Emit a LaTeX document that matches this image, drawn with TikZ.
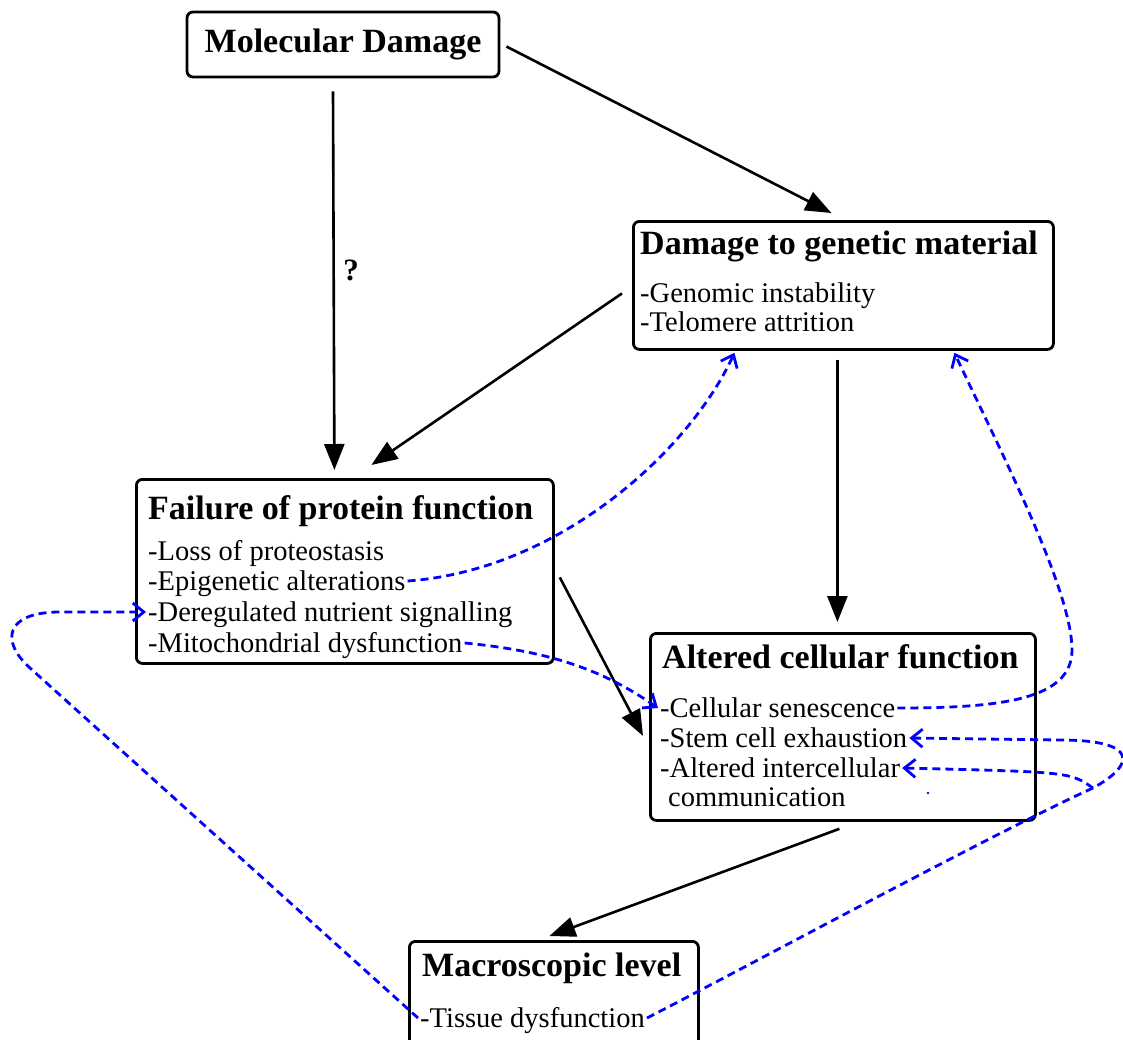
\documentclass[tikz,border=0pt]{standalone}
\usepackage{fontspec}
\setmainfont{Liberation Serif}
\usetikzlibrary{arrows.meta,calc}
\begin{document}
\begin{tikzpicture}[x=1pt,y=-1pt,
  box/.style={draw=black, line width=2.8pt, rounded corners=6pt, inner sep=0pt},
  ttl/.style={font=\fontsize{34}{36}\selectfont\bfseries, inner sep=0pt, anchor=west, text height=22.5pt, text depth=0pt},
  itm/.style={font=\fontsize{28.5}{30}\selectfont, inner xsep=2pt, inner ysep=0pt, anchor=west, text height=19pt, text depth=0pt},
  blk/.style={line width=2.6pt, -{Triangle[length=26pt,width=20pt]}},
  blu/.style={blue, line width=2.8pt, dash pattern=on 8pt off 5pt, -{Straight Barb[length=11pt,width=18pt]}}
]
\useasboundingbox (0,0) rectangle (1123,1039);

% boxes
\node[box, minimum width=312pt, minimum height=65pt, font=\fontsize{34}{36}\selectfont\bfseries] (md) at (343,44.5) {Molecular Damage};
\node[box, minimum width=420pt, minimum height=128pt, anchor=north west] (dgm) at (632,220) {};
\node[box, minimum width=417pt, minimum height=184pt, anchor=north west] (fpf) at (135,478) {};
\node[box, minimum width=385pt, minimum height=187pt, anchor=north west] (acf) at (649,632) {};
\node[box, minimum width=289pt, minimum height=130pt, anchor=north west] (mac) at (408,940) {};

% titles
\node[ttl] (dgmt) at (640,243) {Damage to genetic material};
\node[ttl] (fpft) at (148,508) {Failure of protein function};
\node[ttl] (acft) at (662,657) {Altered cellular function};
\node[ttl] (mact) at (422,965) {Macroscopic level};

% items
\node[itm] (gen) at (638,293) {-Genomic instability};
\node[itm] (tel) at (638,322) {-Telomere attrition};
\node[itm] (pro) at (146,551) {-Loss of proteostasis};
\node[itm] (epi) at (146,581) {-Epigenetic alterations};
\node[itm] (der) at (146,612) {-Deregulated nutrient signalling};
\node[itm] (mit) at (146,643) {-Mitochondrial dysfunction};
\node[itm] (sen) at (658,708) {-Cellular senescence};
\node[itm] (stem) at (658,738) {-Stem cell exhaustion};
\node[itm] (inter) at (658,768) {-Altered intercellular};
\node[itm] (comm) at (666,797) {communication};
\node[itm] (tis) at (418,1018) {-Tissue dysfunction};

% question mark
\node[font=\fontsize{31}{33}\selectfont\bfseries, inner sep=0pt] (q) at (351,270) {?};

% black arrows
\draw[blk] ($(md.south)+(-10,13)$) -- ($(fpf.north)+(-10.5,-8)$);
\draw[blk] ($(md.east)+(6,2)$) -- ($(dgm.north)+(-12,-7)$);
\draw[blk] ($(dgm.west)+(-10,8)$) -- ($(fpf.north)+(26.5,-13)$);
\draw[blk] ($(dgm.south)+(-6,9)$) -- ($(acf.north)+(-5.5,-10)$);
\draw[blk] ($(fpf.east)+(5,6)$) -- ($(acf.west)+(-6,9)$);
\draw[blk] ($(acf.south)+(-3.5,7)$) -- ($(mac.north)+(-4.5,-4)$);

% blue dashed feedback curves
\coordinate (J) at (1093,788);
\draw[blu] (epi.east) .. controls (560,570) and (690,450) .. ($(dgm.south)+(-109,2)$);
\draw[blu] (mit.east) .. controls (560,652) and (610,675) .. (sen.west);
\draw[blu] (sen.east) .. controls (1000,708) and (1072,700) .. (1072,650)
  .. controls (1072,590) and (1000,450) .. ($(dgm.south)+(111,2)$);
\draw[blu] (tis.east) .. controls (750,965) and (1000,830) .. (J)
  .. controls (1135,765) and (1140,740) .. (1060,740) -- (stem.east);
\draw[blu] (J) .. controls (1070,772) .. (inter.east);
\draw[blu] (tis.west) -- (30,668) .. controls (0,641) and (5,612) .. (60,612) -- (der.west);
\fill[blue] (928,793) circle (1.4pt);
\end{tikzpicture}
\end{document}
